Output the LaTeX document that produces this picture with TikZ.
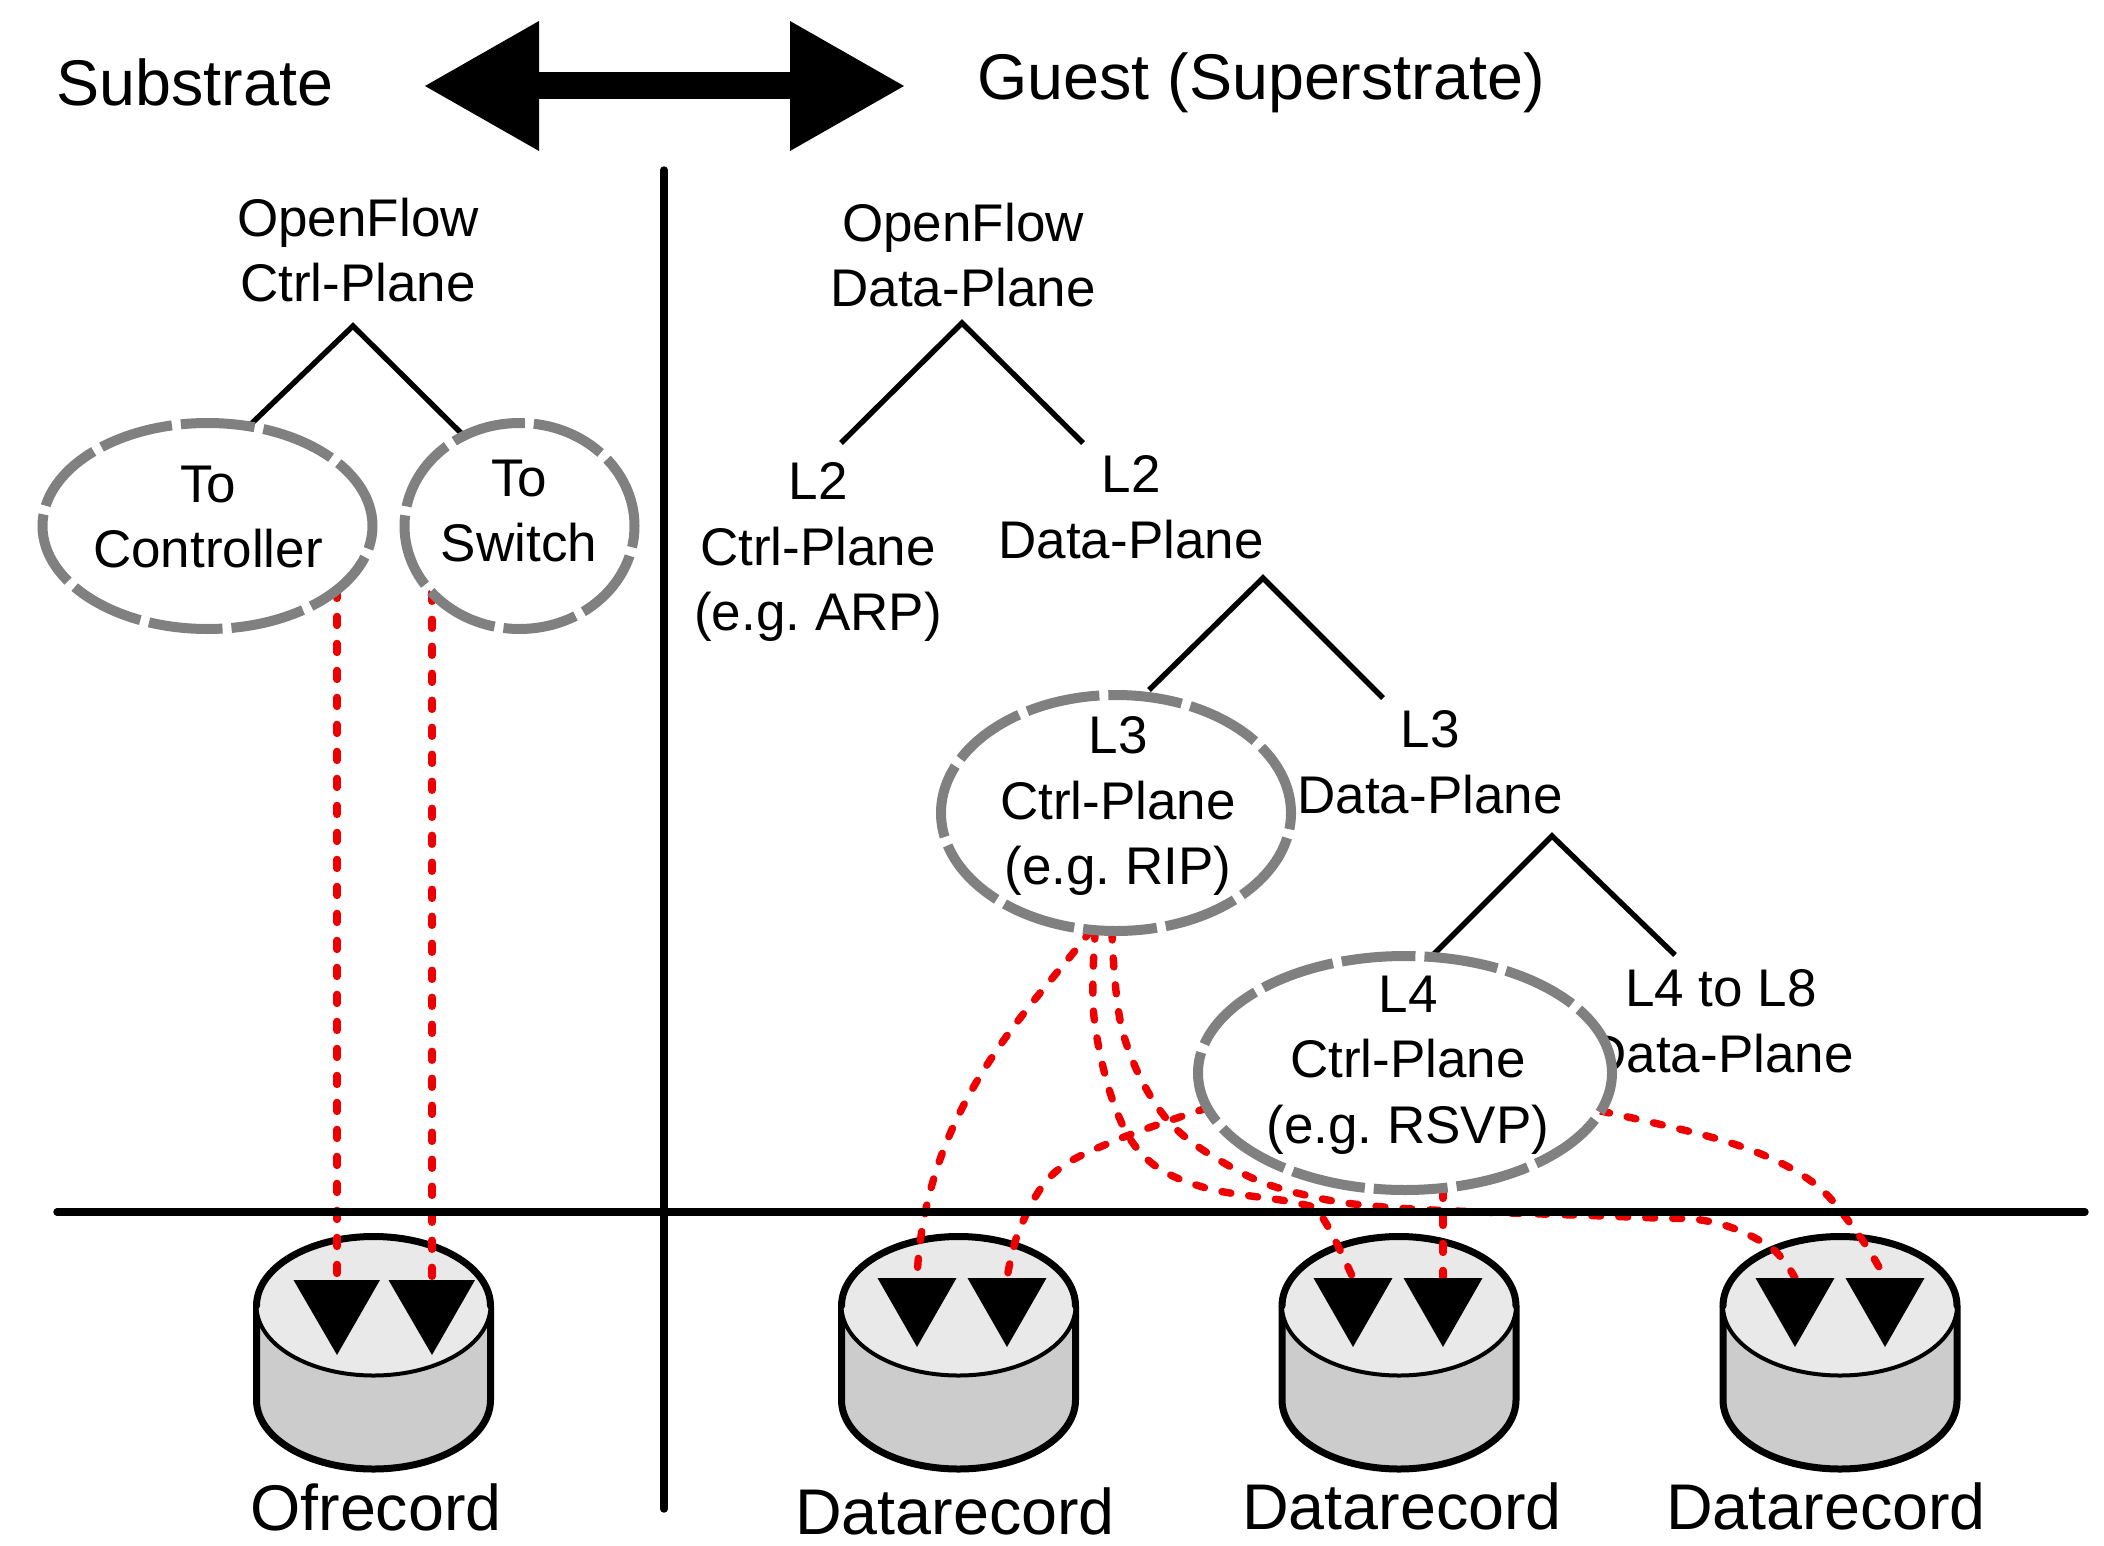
\documentclass[tikz,border=0pt]{standalone}
\usepackage{fontspec}
\setmainfont{Liberation Sans}
\usetikzlibrary{shapes.geometric,arrows.meta,calc}
\pgfdeclarelayer{cyl}\pgfdeclarelayer{red}\pgfdeclarelayer{top}
\pgfsetlayers{cyl,red,main,top}
\definecolor{redline}{HTML}{EE0000}
\definecolor{greyring}{HTML}{808080}
\definecolor{cyltop}{HTML}{E9E9E9}
\definecolor{cylbody}{HTML}{CCCCCC}
\frenchspacing
\tikzset{
  x=0.5pt,y=-0.5pt,
  lbl/.style={inner sep=0pt,outer sep=0pt,align=center,font=\fontsize{26.5}{32.8}\selectfont\frenchspacing},
  biglbl/.style={inner sep=0pt,outer sep=0pt,font=\fontsize{32.3}{38}\selectfont},
  ring/.style={ellipse,draw=greyring,fill=white,line width=5pt,inner sep=0pt,outer sep=0pt,dash pattern=on 37pt off 4.5pt},
  treeline/.style={draw=black,line width=2.7pt,line join=miter},
  axisline/.style={draw=black,line width=3.7pt,line cap=round},
  redpath/.style={draw=redline,line width=3.7pt,line cap=round,dash pattern=on 4.5pt off 9pt},
  tri/.style={fill=black,draw=none},
}
% #1 centre x
\newcommand{\dbcyl}[1]{%
  \fill[cylbody] (#1-117,1306) -- (#1-117,1400) arc[start angle=180,end angle=0,x radius=117,y radius=69] -- (#1+117,1306) -- cycle;
  \draw[black,line width=3.5pt,line join=round] (#1-117,1306) -- (#1-117,1400) arc[start angle=180,end angle=0,x radius=117,y radius=69] -- (#1+117,1306);
  \draw[black,line width=2pt,fill=cyltop] (#1,1306) ellipse[x radius=117,y radius=69.5];
  \draw[black,line width=3.5pt,line cap=round] (#1-117,1306) arc[start angle=180,end angle=0,x radius=117,y radius=-69.5];
}
\begin{document}
\begin{tikzpicture}
\useasboundingbox (0,0) rectangle (2104,1546);

% headings
\node[biglbl] (sub) at (195,82) {Substrate};
\node[biglbl] (guest) at (1261,83) {Guest (Superstrate)};
\coordinate (arrL) at (425,86);
\coordinate (arrR) at (904,86);
\draw[line width=13.5pt,{Triangle[length=57pt,width=65pt,line width=0pt]}-{Triangle[length=57pt,width=65pt,line width=0pt]}] (arrL) -- (arrR);

% axes
\coordinate (vT) at (664,170);
\coordinate (vB) at (664,1509);
\coordinate (hL) at (57,1212);
\coordinate (hR) at (2085,1212);
\draw[axisline] (vT) -- (vB);
\draw[axisline] (hL) -- (hR);

% tree lines
\coordinate (a1) at (353,326); \coordinate (a1l) at (250,425); \coordinate (a1r) at (463,435);
\coordinate (a2) at (962,323); \coordinate (a2l) at (841,443); \coordinate (a2r) at (1083,443);
\coordinate (a3) at (1263,578); \coordinate (a3l) at (1149,690); \coordinate (a3r) at (1383,698);
\coordinate (a4) at (1552,836); \coordinate (a4l) at (1433,955); \coordinate (a4r) at (1675,955);
\draw[treeline] (a1l) -- (a1) -- (a1r);
\draw[treeline] (a2l) -- (a2) -- (a2r);
\draw[treeline] (a3l) -- (a3) -- (a3r);
\draw[treeline] (a4l) -- (a4) -- (a4r);

% plain labels
\node[lbl] (ofc) at (358,250) {OpenFlow\\Ctrl-Plane};
\node[lbl] (ofd) at (963,255) {OpenFlow\\Data-Plane};
\node[lbl] (l2c) at (818,552) {L2\\Ctrl-Plane\\(e.g. ARP)};
\node[lbl] (l2d) at (1131,507) {L2\\Data-Plane};
\node[lbl] (l3d) at (1430,762) {L3\\Data-Plane};
\node[lbl] (l48) at (1721,1021) {L4 to L8\\Data-Plane};

% rings
\node[ring,minimum width=165pt,minimum height=103pt] (ctrlE) at (207.5,526) {};
\node[ring,minimum width=115pt,minimum height=103pt] (swE) at (519.5,526) {};
\node[ring,minimum width=175pt,minimum height=118pt] (ripE) at (1116,813) {};
\node[ring,minimum width=207pt,minimum height=117pt] (rsvpE) at (1405,1073) {};
\node[lbl] (ctrlT) at (208,517) {To\\Controller};
\node[lbl] (swT) at (519,511) {To\\Switch};
\node[lbl] (ripT) at (1118,806) {L3\\Ctrl-Plane\\(e.g. RIP)};
\node[lbl] (rsvpT) at (1408,1065) {L4\\Ctrl-Plane\\(e.g. RSVP)};

% store names
\node[biglbl] (rec0) at (376,1507) {Ofrecord};
\node[biglbl] (rec1) at (955,1511) {Datarecord};
\node[biglbl] (rec2) at (1402,1506) {Datarecord};
\node[biglbl] (rec3) at (1826,1506) {Datarecord};

% cylinders
\begin{pgfonlayer}{cyl}
\dbcyl{373.5}
\dbcyl{958.5}
\dbcyl{1399}
\dbcyl{1840}
\end{pgfonlayer}

% triangle tops
\coordinate (t0a) at (337,1280); \coordinate (t0b) at (432,1280);
\coordinate (t1a) at (917,1278); \coordinate (t1b) at (1007,1278);
\coordinate (t2a) at (1353,1278); \coordinate (t2b) at (1443,1278);
\coordinate (t3a) at (1795,1278); \coordinate (t3b) at (1885,1278);

\begin{pgfonlayer}{top}
\fill[tri] (293.5,1280) -- (380,1280) -- (337,1355) -- cycle;
\fill[tri] (388.5,1280) -- (475,1280) -- (432,1355) -- cycle;
\foreach \c in {917,1007,1353,1443,1795,1885}{
  \fill[tri] (\c-39.5,1278) -- (\c+39.5,1278) -- (\c,1347) -- cycle;
}
\end{pgfonlayer}

% red connectors
\begin{pgfonlayer}{red}
\draw[redpath] (t0a |- ctrlE.-26) -- (t0a);
\draw[redpath] (t0b |- swE.217) -- (t0b);
\draw[redpath] (ripE.258) .. controls (1040,1000) and (925,1100) .. (t1a);
\draw[redpath] plot[smooth,tension=.6] coordinates {(rsvpE.190) (1114,1141) (1053,1174) (1020,1228) (t1b)};
\draw[redpath] plot[smooth,tension=.6] coordinates {(ripE.260) (1094,1017) (1115,1107) (1148,1160) (1206,1188) (1297,1203) (1322,1217) (t2a)};
\draw[redpath] plot[smooth,tension=.6] coordinates {(ripE.268) (1123,1033) (1165,1117) (1231,1167) (1297,1193) (1397,1208) (1629,1217) (1712,1222) (1770,1247) (t3a)};
\draw[redpath] (t2b |- rsvpE.-80) -- (t2b);
\draw[redpath] plot[smooth,tension=.6] coordinates {(rsvpE.-11) (1731,1143) (1811,1181) (1858,1234) (t3b)};
\end{pgfonlayer}
\end{tikzpicture}
\end{document}
